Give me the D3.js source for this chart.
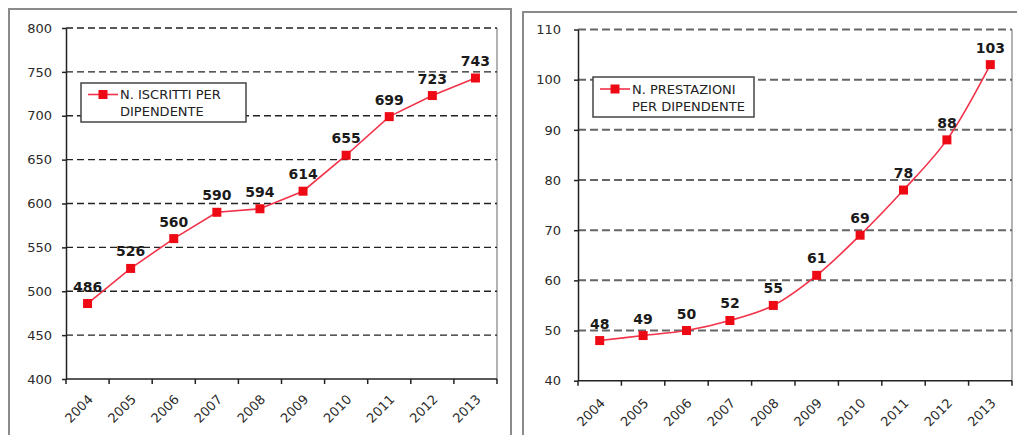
<!DOCTYPE html>
<html>
<head>
<meta charset="utf-8">
<script src="https://cdn.jsdelivr.net/npm/d3@7"></script>
<style>
  html, body { margin: 0; padding: 0; background: #fff; }
  svg { display: block; }
  text { font-family: "DejaVu Sans", Verdana, sans-serif; }
</style>
</head>
<body>
<svg id="chart" width="1017" height="435"></svg>
<script>
// Years on the category axis
const years = ["2004", "2005", "2006", "2007", "2008", "2009", "2010", "2011", "2012", "2013"];

// Enrolled members per employee
const iscritti = [486, 526, 560, 590, 594, 614, 655, 699, 723, 743];
const iscrittiTicks = [400, 450, 500, 550, 600, 650, 700, 750, 800];
const iscrittiLegend = ["N. ISCRITTI PER", "DIPENDENTE"];

// Services delivered per employee
const prestazioni = [48, 49, 50, 52, 55, 61, 69, 78, 88, 103];
const prestazioniTicks = [40, 50, 60, 70, 80, 90, 100, 110];
const prestazioniLegend = ["N. PRESTAZIONI", "PER DIPENDENTE"];

const svg = d3.select("#chart");
const RED_LINE = "#f2334a";
const RED_MARK = "#ee0a14";

function drawPanel(opts) {
  const { frame, plot, values, ticks, legend, legendBox, curve, gridColor, gridWidth, gridDash, labelGap } = opts;
  const g = svg.append("g");

  // outer chart frame
  g.append("rect")
    .attr("x", frame.x).attr("y", frame.y)
    .attr("width", frame.w).attr("height", frame.h)
    .attr("fill", "none").attr("stroke", "#8a8a8a").attr("stroke-width", 2);

  const x = d3.scaleBand().domain(years).range([plot.left, plot.right]);
  const y = d3.scaleLinear().domain([ticks[0], ticks[ticks.length - 1]]).range([plot.bottom, plot.top]);

  // plot area right border
  g.append("line")
    .attr("x1", plot.right).attr("x2", plot.right)
    .attr("y1", plot.top).attr("y2", plot.bottom)
    .attr("stroke", "#9a9a9a").attr("stroke-width", 1.5);

  // dashed horizontal gridlines
  g.append("g").selectAll("line")
    .data(ticks.slice(1))
    .join("line")
    .attr("x1", plot.left).attr("x2", plot.right)
    .attr("y1", d => y(d)).attr("y2", d => y(d))
    .attr("stroke", gridColor).attr("stroke-width", gridWidth)
    .attr("stroke-dasharray", gridDash);

  // value axis
  const yAxis = g.append("g")
    .attr("transform", `translate(${plot.left},0)`)
    .call(d3.axisLeft(y).tickValues(ticks).tickSize(4).tickPadding(opts.yPad).tickSizeOuter(0));
  yAxis.select(".domain").attr("stroke", "#222").attr("stroke-width", 1.5);
  yAxis.selectAll(".tick line").attr("stroke", "#222").attr("stroke-width", 1.5);
  yAxis.selectAll(".tick text")
    .attr("fill", "#2a2a2a").style("font-size", "13px");

  // category axis with ticks between the bands
  const xg = g.append("g").attr("transform", `translate(0,${plot.bottom})`);
  xg.append("line")
    .attr("x1", plot.left).attr("x2", plot.right)
    .attr("stroke", "#222").attr("stroke-width", 1.5);
  const edges = years.map(d => x(d)).concat([plot.right]);
  xg.selectAll("line.edge")
    .data(edges)
    .join("line").attr("class", "edge")
    .attr("x1", d => d).attr("x2", d => d)
    .attr("y1", 0).attr("y2", 5)
    .attr("stroke", "#222").attr("stroke-width", 1.5);
  xg.selectAll("text")
    .data(years)
    .join("text")
    .attr("transform", d => `translate(${x(d) + x.bandwidth() / 2 + 3},${opts.xLabelOffset}) rotate(-45)`)
    .attr("text-anchor", "end")
    .attr("dy", "0.35em")
    .attr("fill", "#2a2a2a")
    .style("font-size", "13px")
    .text(d => d);

  const cx = (d, i) => x(years[i]) + x.bandwidth() / 2;

  // series line
  const line = d3.line()
    .x((d, i) => cx(d, i))
    .y(d => y(d))
    .curve(curve);
  g.append("path")
    .datum(values)
    .attr("d", line)
    .attr("fill", "none")
    .attr("stroke", RED_LINE)
    .attr("stroke-width", 1.6);

  // markers
  g.append("g").selectAll("rect")
    .data(values)
    .join("rect")
    .attr("x", (d, i) => cx(d, i) - 4.5)
    .attr("y", d => y(d) - 4.5)
    .attr("width", 9).attr("height", 9)
    .attr("fill", RED_MARK);

  // value labels
  g.append("g").selectAll("text")
    .data(values)
    .join("text")
    .attr("x", (d, i) => cx(d, i))
    .attr("y", d => y(d) - labelGap)
    .attr("text-anchor", "middle")
    .attr("fill", "#1a1a1a")
    .style("font-size", "14px")
    .style("font-weight", "bold")
    .text(d => d);

  // legend
  const lg = g.append("g");
  lg.append("rect")
    .attr("x", legendBox.x).attr("y", legendBox.y)
    .attr("width", legendBox.w).attr("height", legendBox.h)
    .attr("fill", "#fff").attr("stroke", "#444").attr("stroke-width", 1.5);
  const ly = legendBox.y + legendBox.h / 2 - 8;
  lg.append("line")
    .attr("x1", legendBox.x + 7).attr("x2", legendBox.x + 37)
    .attr("y1", ly).attr("y2", ly)
    .attr("stroke", RED_LINE).attr("stroke-width", 1.6);
  lg.append("rect")
    .attr("x", legendBox.x + 22 - 4.5).attr("y", ly - 4.5)
    .attr("width", 9).attr("height", 9)
    .attr("fill", RED_MARK);
  lg.selectAll("text")
    .data(legend)
    .join("text")
    .attr("x", legendBox.x + 39)
    .attr("y", (d, i) => ly + i * 17)
    .attr("dy", "0.35em")
    .attr("fill", "#222")
    .style("font-size", "13px")
    .text(d => d);
}

drawPanel({
  frame: { x: 9, y: 9, w: 502, h: 440 },
  plot: { left: 66, right: 497, top: 28, bottom: 379 },
  values: iscritti,
  ticks: iscrittiTicks,
  legend: iscrittiLegend,
  legendBox: { x: 81, y: 83, w: 165, h: 39 },
  curve: d3.curveLinear,
  gridColor: "#222",
  gridWidth: 1.3,
  gridDash: "7,4",
  labelGap: 12,
  yPad: 10,
  xLabelOffset: 18
});

drawPanel({
  frame: { x: 523, y: 12, w: 520, h: 440 },
  plot: { left: 578, right: 1012, top: 29.5, bottom: 380.7 },
  values: prestazioni,
  ticks: prestazioniTicks,
  legend: prestazioniLegend,
  legendBox: { x: 593, y: 77, w: 161, h: 40 },
  curve: d3.curveCatmullRom.alpha(0.5),
  gridColor: "#666",
  gridWidth: 2,
  gridDash: "8,4",
  labelGap: 12,
  yPad: 13,
  xLabelOffset: 20
});
</script>
</body>
</html>
